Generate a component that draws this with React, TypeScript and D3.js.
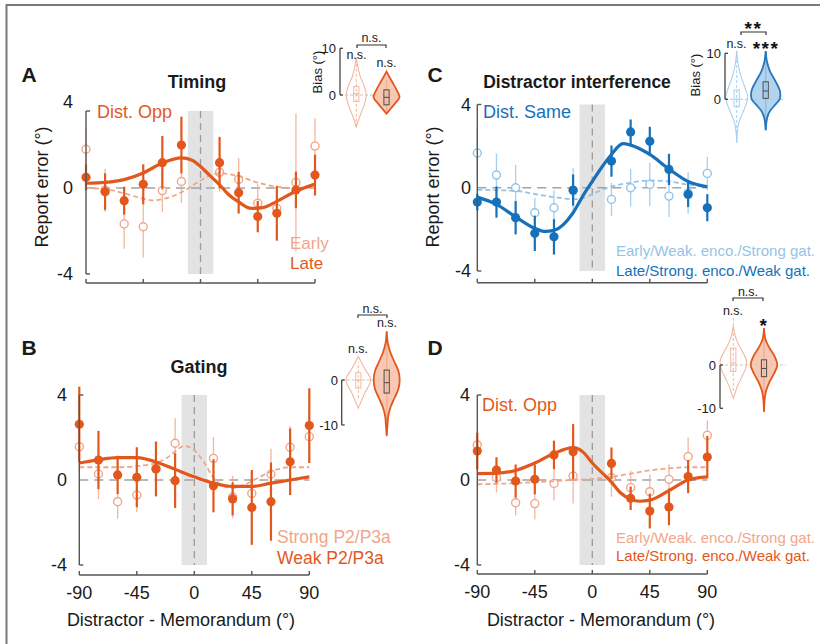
import React from 'react';
import * as d3 from 'd3';

// ---------------- DATA ----------------
const DEG = [-90, -75, -60, -45, -30, -15, 15, 30, 45, 60, 75, 90];
const X_TICKS = [-90, -45, 0, 45, 90];
const Y_TICKS = [-4, 0, 4];

// Panel A: Timing
const timingLate = [0.5, -0.17, -0.59, 0.17, 1.18, 2.0, 1.18, -0.22, -1.33, -1.18, -0.09, 0.6];
const timingLateErr = [0.6, 0.85, 0.65, 0.93, 1.24, 1.32, 1.2, 0.97, 0.73, 1.27, 0.85, 0.95];
const timingEarly = [1.8, -0.1, -1.67, -1.8, -0.12, 0.3, 0.73, 0.4, -0.71, -0.95, 0.26, 1.95];
const timingEarlyErr = [1.0, 1.0, 1.16, 1.43, 1.0, 1.0, 0.9, 1.0, 0.9, 1.0, 3.2, 1.3];
const timingLateFitDeg = [-90, -75, -60, -45, -30, -15, -7, 0, 7, 15, 22, 30, 40, 50, 60, 75, 90];
const timingLateFit = [0.22, 0.26, 0.39, 0.7, 1.16, 1.4, 1.3, 1.0, 0.6, 0.15, -0.3, -0.65, -0.95, -0.9, -0.62, -0.15, 0.18];
const timingEarlyFitDeg = [-90, -75, -60, -45, -37, -30, -15, 0, 10, 15, 30, 45, 60, 75, 90];
const timingEarlyFit = [0, -0.05, -0.25, -0.5, -0.58, -0.52, -0.2, 0.35, 0.65, 0.68, 0.55, 0.25, 0.06, 0, 0];

// Panel B: Gating
const gatingWeak = [2.62, 0.94, 0.24, 0.13, 0.52, -0.03, -0.27, -0.89, -1.29, -1.02, 0.86, 2.56];
const gatingWeakErr = [1.77, 1.37, 0.9, 1.41, 1.29, 1.29, 1.25, 0.78, 1.76, 1.84, 1.57, 1.76];
const gatingStrong = [1.57, 0.28, -1.02, -0.71, 0.55, 1.73, 1.02, -0.8, -0.63, 0.27, 1.54, 2.04];
const gatingStrongErr = [1.2, 1.18, 0.8, 0.8, 1.0, 1.18, 1.0, 1.0, 0.8, 1.2, 1.0, 1.2];
const gatingWeakFitDeg = [-90, -75, -60, -45, -30, -15, 0, 15, 30, 45, 60, 75, 90];
const gatingWeakFit = [0.8, 0.95, 1.05, 1.05, 0.85, 0.5, 0.15, -0.15, -0.3, -0.3, -0.15, 0.0, 0.15];
const gatingStrongFitDeg = [-90, -75, -60, -45, -30, -20, -15, -8, 0, 8, 15, 22, 30, 40, 50, 60, 75, 90];
const gatingStrongFit = [0.6, 0.6, 0.6, 0.65, 0.8, 1.1, 1.35, 1.6, 1.4, 0.8, 0.1, -0.25, -0.38, -0.2, 0.1, 0.4, 0.6, 0.6];

// Panel C: Distractor interference (Dist. Same)
const interfLate = [-0.69, -0.69, -1.44, -2.19, -2.36, -0.11, 1.28, 2.68, 2.23, 0.88, -0.32, -0.96];
const interfLateErr = [0.4, 0.75, 0.8, 0.85, 0.85, 0.75, 0.75, 0.6, 0.7, 0.75, 0.6, 0.65];
const interfEarly = [1.67, 0.61, 0.0, -1.2, -0.96, -0.15, -0.56, 0.0, 0.16, -0.4, -0.25, 0.69];
const interfEarlyErr = [1.2, 1.04, 1.1, 0.72, 0.84, 1.1, 0.8, 0.9, 1.04, 1.0, 1.0, 0.8];
const interfLateFitDeg = [-90, -75, -60, -45, -37, -30, -15, -7, 0, 7, 15, 24, 30, 45, 60, 75, 90];
const interfLateFit = [-0.45, -0.8, -1.4, -1.95, -2.1, -2.05, -1.2, -0.35, 0.3, 0.95, 1.6, 2.12, 2.05, 1.6, 0.9, 0.3, 0.05];
const interfEarlyFitDeg = [-90, -60, -45, -30, -15, -7, 0, 15, 30, 45, 60, 75, 90];
const interfEarlyFit = [-0.1, -0.15, -0.3, -0.45, -0.55, -0.5, -0.3, 0.05, 0.25, 0.35, 0.3, 0.15, 0.05];

// Panel D: Dist. Opp (encoding / gating)
const oppLate = [1.36, 0.47, -0.05, 0.03, 1.18, 1.33, 0.78, -0.86, -1.46, -1.27, 0.16, 1.08];
const oppLateErr = [0.86, 0.6, 0.78, 0.7, 0.67, 1.3, 0.75, 0.55, 0.82, 0.86, 0.78, 1.0];
const oppEarly = [1.65, 0.11, -1.07, -1.11, -0.16, 0.19, 0.11, -0.36, -0.55, 0.03, 1.1, 2.1];
const oppEarlyErr = [0.6, 0.7, 0.6, 0.75, 0.8, 1.3, 0.9, 0.8, 0.8, 0.7, 0.9, 0.7];
const oppLateFitDeg = [-90, -75, -60, -45, -30, -15, -7, 0, 15, 22, 30, 37, 45, 60, 75, 90];
const oppLateFit = [0.3, 0.32, 0.45, 0.8, 1.25, 1.52, 1.3, 0.8, -0.1, -0.6, -0.9, -1.0, -0.95, -0.5, 0.0, 0.15];
const oppEarlyFitDeg = [-90, -60, -45, -30, -15, 0, 15, 30, 45, 60, 75, 90];
const oppEarlyFit = [-0.2, -0.15, -0.1, -0.05, 0.0, 0.05, 0.15, 0.3, 0.45, 0.55, 0.6, 0.6];

// Violin insets: bias values (°) and relative density; box = [whiskLo, q1, median, q3, whiskHi]
const vA1Vals = [8, 6, 4, 2, 0, -2, -4, -6, -7];
const vA1Dens = [0, 0.12, 0.3, 0.6, 0.77, 0.62, 0.35, 0.09, 0];
const vA1Box = [-6.8, -1.4, 0.3, 1.8, 8.2];
const vA2Vals = [5, 3, 1, -0.4, -2, -3, -4];
const vA2Dens = [0, 0.4, 0.8, 1, 0.6, 0.3, 0];
const vA2Box = [-3.4, -2.1, -0.5, 1.1, 3.2];

const vB1Vals = [5.2, 2.6, 0, -3, -6.3];
const vB1Dens = [0, 0.48, 0.95, 0.48, 0];
const vB1Box = [-4, -1.8, 0, 1.6, 4];
const vB2Vals = [10.7, 8, 6, 4, 2, 0, -2, -4, -6, -8, -10, -12.2];
const vB2Dens = [0, 0.1, 0.3, 0.6, 0.9, 1, 0.9, 0.6, 0.3, 0.12, 0.06, 0];
const vB2Box = [-12.5, -2.9, -0.6, 2.2, 10.8];

const vC1Vals = [10.5, 8, 6, 4, 2, 0.5, -1, -3, -5, -7, -9.5];
const vC1Dens = [0, 0.08, 0.2, 0.4, 0.62, 0.75, 0.65, 0.4, 0.15, 0.05, 0];
const vC1Box = [-9.5, -1.6, 0, 2.0, 10.5];
const vC2Vals = [10.5, 8, 6, 4, 2, 1, 0, -1, -2.5, -4, -6.7];
const vC2Dens = [0, 0.1, 0.3, 0.65, 0.95, 1, 0.95, 0.7, 0.3, 0.1, 0];
const vC2Box = [-6.7, 0.2, 1.8, 3.8, 10.5];

const vD1Vals = [9, 7, 5, 3, 0.8, -1, -3, -5, -7, -7.7];
const vD1Dens = [0, 0.12, 0.35, 0.7, 1, 0.9, 0.6, 0.3, 0.08, 0];
const vD1Box = [-6, -1.5, 0.5, 3.9, 11];
const vD2Vals = [8.5, 6, 4, 2, 0, -2, -4, -6, -8, -10.8];
const vD2Dens = [0, 0.1, 0.4, 0.8, 1, 0.75, 0.4, 0.15, 0.05, 0];
const vD2Box = [-10.8, -2.7, -0.8, 1.2, 8.5];

// ---------------- STYLE ----------------
const FONT = "'Liberation Sans', Arial, Helvetica, sans-serif";
const COL = {
  oDark: '#E2581C',
  oLight: '#F1A68A',
  oFill: '#F6BFA7',
  bDark: '#1671BA',
  bLight: '#93C4E8',
  bFill: '#A6CCEA',
  axis: '#555555',
  zero: '#a3a3a3',
  band: '#e3e3e3',
  text: '#1a1a1a',
};

type Series = { vals: number[]; err: number[]; fitDeg: number[]; fit: number[] };
type PanelCfg = {
  x0: number; x1: number; yB: number; yT: number; axisTop: number; xAxisY: number;
  yLabelEnd: number; showX: boolean; titleX: number; dark: string; light: string;
  late: Series; early: Series;
};

function Panel({ c }: { c: PanelCfg }) {
  const x = d3.scaleLinear().domain([-90, 90]).range([c.x0, c.x1]);
  const y = d3.scaleLinear().domain([-4, 4]).range([c.yB, c.yT]);
  const mk = (degs: number[], vals: number[]) =>
    d3.line<number>().x((_, i) => x(degs[i])).y((d) => y(d)).curve(d3.curveMonotoneX)(vals) || '';
  const top = y(c.axisTop);
  return (
    <g>
      <rect x={x(-10)} y={top} width={x(10) - x(-10)} height={y(-4) - top} fill={COL.band} />
      <line x1={x(0)} x2={x(0)} y1={top} y2={y(-4)} stroke="#9a9a9a" strokeWidth={1.3} strokeDasharray="7,5" />
      <line x1={x(-90)} x2={x(90)} y1={y(0)} y2={y(0)} stroke={COL.zero} strokeWidth={1.4} strokeDasharray="9,6" />
      {DEG.map((d, i) => (
        <line key={'le' + i} x1={x(d)} x2={x(d)} y1={y(c.early.vals[i] - c.early.err[i])} y2={y(c.early.vals[i] + c.early.err[i])}
          stroke={c.light} strokeWidth={1.3} opacity={0.8} />
      ))}
      {DEG.map((d, i) => (
        <circle key={'ce' + i} cx={x(d)} cy={y(c.early.vals[i])} r={4} fill="white" stroke={c.light} strokeWidth={1.4} />
      ))}
      <path d={mk(c.early.fitDeg, c.early.fit)} fill="none" stroke={c.light} strokeWidth={1.8} strokeDasharray="5,3" />
      <path d={mk(c.late.fitDeg, c.late.fit)} fill="none" stroke={c.dark} strokeWidth={3.2} />
      {DEG.map((d, i) => (
        <line key={'ll' + i} x1={x(d)} x2={x(d)} y1={y(c.late.vals[i] - c.late.err[i])} y2={y(c.late.vals[i] + c.late.err[i])}
          stroke={c.dark} strokeWidth={2.2} />
      ))}
      {DEG.map((d, i) => (
        <circle key={'cl' + i} cx={x(d)} cy={y(c.late.vals[i])} r={4.6} fill={c.dark} />
      ))}
      <line x1={c.x0} x2={c.x0} y1={top} y2={y(-4)} stroke={COL.axis} strokeWidth={1.4} />
      {[top, y(-4)].map((yy, i) => (
        <line key={'yt' + i} x1={c.x0} x2={c.x0 + 4} y1={yy} y2={yy} stroke={COL.axis} strokeWidth={1.4} />
      ))}
      {Y_TICKS.map((t) => (
        <text key={'yl' + t} x={c.yLabelEnd} y={y(t)} textAnchor="end" dominantBaseline="central"
          fontSize={18} fontFamily={FONT} fill={COL.text}>{t}</text>
      ))}
      <line x1={x(-90)} x2={x(90)} y1={c.xAxisY} y2={c.xAxisY} stroke={COL.axis} strokeWidth={1.4} />
      {X_TICKS.map((t) => (
        <line key={'xt' + t} x1={x(t)} x2={x(t)} y1={c.xAxisY} y2={c.xAxisY - 4} stroke={COL.axis} strokeWidth={1.4} />
      ))}
      {c.showX && X_TICKS.map((t) => (
        <text key={'xl' + t} x={x(t)} y={c.xAxisY + 18} textAnchor="middle" dominantBaseline="central"
          fontSize={18} fontFamily={FONT} fill={COL.text}>{t}</text>
      ))}
      {c.showX && (
        <text x={c.titleX} y={620} textAnchor="middle" dominantBaseline="central"
          fontSize={18} fontFamily={FONT} fill={COL.text}>Distractor - Memorandum (°)</text>
      )}
    </g>
  );
}

type ViolinCfg = { cx: number; vals: number[]; dens: number[]; box: number[]; filled: boolean; stroke: string; fill: string; whisk: string };
type InsetCfg = {
  ax: number; domain: [number, number]; range: [number, number]; ticks: number[]; labelEnd: number;
  bias?: [number, number]; half: number; zeroEnd: number; violins: ViolinCfg[];
};

function Inset({ c }: { c: InsetCfg }) {
  const y = d3.scaleLinear().domain(c.domain).range(c.range);
  return (
    <g>
      <line x1={c.ax} x2={c.zeroEnd} y1={y(0)} y2={y(0)} stroke="#c4c4c4" strokeWidth={1} strokeDasharray="3,2" />
      {c.violins.map((v, k) => {
        const area = d3.area<number>()
          .y((_, i) => y(v.vals[i]))
          .x0((d) => v.cx - d * c.half)
          .x1((d) => v.cx + d * c.half)
          .curve(d3.curveMonotoneY);
        const [wLo, q1, med, q3, wHi] = v.box;
        return (
          <g key={k}>
            <line x1={v.cx} x2={v.cx} y1={y(wLo)} y2={y(wHi)} stroke={v.whisk} strokeWidth={v.filled ? 1.6 : 1}
              strokeDasharray={v.filled ? undefined : '3,2'} />
            <path d={area(v.dens) || ''} fill={v.filled ? v.fill : 'none'} fillOpacity={0.85}
              stroke={v.stroke} strokeWidth={v.filled ? 1.8 : 1.1} />
            <rect x={v.cx - 2.6} y={y(q3)} width={5.2} height={y(q1) - y(q3)} fill="none"
              stroke={v.filled ? '#4a4a4a' : v.stroke} strokeWidth={1} />
            <line x1={v.cx - 2.6} x2={v.cx + 2.6} y1={y(med)} y2={y(med)} stroke={v.filled ? '#4a4a4a' : v.stroke} strokeWidth={1} />
          </g>
        );
      })}
      <line x1={c.ax} x2={c.ax} y1={y(c.ticks[0])} y2={y(c.ticks[1])} stroke="#444" strokeWidth={1.3} />
      {c.ticks.map((t) => (
        <g key={t}>
          <line x1={c.ax} x2={c.ax + 3} y1={y(t)} y2={y(t)} stroke="#444" strokeWidth={1.3} />
          <text x={c.labelEnd} y={y(t)} textAnchor="end" dominantBaseline="central" fontSize={13}
            fontFamily={FONT} fill={COL.text}>{t}</text>
        </g>
      ))}
      {c.bias && (
        <text transform={`translate(${c.bias[0]},${c.bias[1]}) rotate(-90)`} textAnchor="middle" dominantBaseline="central"
          fontSize={13} fontFamily={FONT} fill={COL.text}>Bias (°)</text>
      )}
    </g>
  );
}

const T = (props: any) => (
  <text fontFamily={FONT} dominantBaseline="central" fill={COL.text} {...props} />
);

function Bracket({ x1, x2, y }: { x1: number; x2: number; y: number }) {
  return <path d={`M${x1},${y + 3}V${y}H${x2}V${y + 3}`} fill="none" stroke="#333" strokeWidth={1.2} />;
}

const Stars = ({ x, y, s }: { x: number; y: number; s: string }) => (
  <text x={x} y={y + 9.5} textAnchor="middle" fontFamily={FONT} fontWeight="bold" fontSize={19}
    letterSpacing={1.5} fill="#111">{s}</text>
);

export default function App() {
  const panelA: PanelCfg = {
    x0: 86, x1: 315, yB: 274, yT: 102, axisTop: 3.58, xAxisY: 283, yLabelEnd: 73, showX: false, titleX: 0,
    dark: COL.oDark, light: COL.oLight,
    late: { vals: timingLate, err: timingLateErr, fitDeg: timingLateFitDeg, fit: timingLateFit },
    early: { vals: timingEarly, err: timingEarlyErr, fitDeg: timingEarlyFitDeg, fit: timingEarlyFit },
  };
  const panelB: PanelCfg = {
    x0: 79.3, x1: 309.3, yB: 565, yT: 395, axisTop: 4, xAxisY: 575, yLabelEnd: 67, showX: true, titleX: 181,
    dark: COL.oDark, light: COL.oLight,
    late: { vals: gatingWeak, err: gatingWeakErr, fitDeg: gatingWeakFitDeg, fit: gatingWeakFit },
    early: { vals: gatingStrong, err: gatingStrongErr, fitDeg: gatingStrongFitDeg, fit: gatingStrongFit },
  };
  const panelC: PanelCfg = {
    x0: 477.3, x1: 707.3, yB: 271, yT: 104.5, axisTop: 4, xAxisY: 282.7, yLabelEnd: 471, showX: false, titleX: 0,
    dark: COL.bDark, light: COL.bLight,
    late: { vals: interfLate, err: interfLateErr, fitDeg: interfLateFitDeg, fit: interfLateFit },
    early: { vals: interfEarly, err: interfEarlyErr, fitDeg: interfEarlyFitDeg, fit: interfEarlyFit },
  };
  const panelD: PanelCfg = {
    x0: 477.3, x1: 707.3, yB: 565, yT: 395, axisTop: 4, xAxisY: 574, yLabelEnd: 470, showX: true, titleX: 601,
    dark: COL.oDark, light: COL.oLight,
    late: { vals: oppLate, err: oppLateErr, fitDeg: oppLateFitDeg, fit: oppLateFit },
    early: { vals: oppEarly, err: oppEarlyErr, fitDeg: oppEarlyFitDeg, fit: oppEarlyFit },
  };

  const earlyO = (cx: number, vals: number[], dens: number[], box: number[]): ViolinCfg =>
    ({ cx, vals, dens, box, filled: false, stroke: '#F3B79F', fill: 'none', whisk: '#F3B79F' });
  const lateO = (cx: number, vals: number[], dens: number[], box: number[]): ViolinCfg =>
    ({ cx, vals, dens, box, filled: true, stroke: COL.oDark, fill: COL.oFill, whisk: COL.oDark });

  const insetA: InsetCfg = {
    ax: 340, domain: [0, 10], range: [95, 48.3], ticks: [10, 0], labelEnd: 336, bias: [317, 72], half: 13, zeroEnd: 400,
    violins: [earlyO(356.3, vA1Vals, vA1Dens, vA1Box), lateO(386.5, vA2Vals, vA2Dens, vA2Box)],
  };
  const insetB: InsetCfg = {
    ax: 341.7, domain: [-10, 0], range: [425, 380], ticks: [0, -10], labelEnd: 338, half: 13, zeroEnd: 402,
    violins: [earlyO(358.3, vB1Vals, vB1Dens, vB1Box), lateO(386.7, vB2Vals, vB2Dens, vB2Box)],
  };
  const insetC: InsetCfg = {
    ax: 725, domain: [0, 10], range: [99.3, 53.3], ticks: [10, 0], labelEnd: 721, bias: [695, 75], half: 14.7, zeroEnd: 785,
    violins: [
      { cx: 736.7, vals: vC1Vals, dens: vC1Dens, box: vC1Box, filled: false, stroke: '#A9D0EE', fill: 'none', whisk: '#A9D0EE' },
      { cx: 765.7, vals: vC2Vals, dens: vC2Dens, box: vC2Box, filled: true, stroke: '#2A76BC', fill: COL.bFill, whisk: '#2A76BC' },
    ],
  };
  const insetD: InsetCfg = {
    ax: 720, domain: [-10, 0], range: [408.3, 365], ticks: [0, -10], labelEnd: 716, half: 13.3, zeroEnd: 786,
    violins: [earlyO(733.3, vD1Vals, vD1Dens, vD1Box), lateO(764, vD2Vals, vD2Dens, vD2Box)],
  };

  return (
    <svg width={820} height={644} style={{ position: 'absolute', left: 0, top: 0, background: 'white' }}>
      <rect x={0} y={0} width={820} height={644} fill="white" />
      <path d="M6.5,644V5H820" fill="none" stroke="#7a7a7a" strokeWidth={2} />

      <Panel c={panelA} />
      <Panel c={panelB} />
      <Panel c={panelC} />
      <Panel c={panelD} />

      <T x={29} y={74} textAnchor="middle" fontSize={21} fontWeight="bold">A</T>
      <T x={29} y={347} textAnchor="middle" fontSize={21} fontWeight="bold">B</T>
      <T x={435} y={74} textAnchor="middle" fontSize={21} fontWeight="bold">C</T>
      <T x={435} y={347} textAnchor="middle" fontSize={21} fontWeight="bold">D</T>
      <T x={197} y={82} textAnchor="middle" fontSize={18} fontWeight="bold">Timing</T>
      <T x={199} y={367} textAnchor="middle" fontSize={18} fontWeight="bold">Gating</T>
      <T x={577} y={82} textAnchor="middle" fontSize={17.5} fontWeight="bold">Distractor interference</T>

      <T transform="translate(42,187) rotate(-90)" textAnchor="middle" fontSize={18}>Report error (°)</T>
      <T transform="translate(433,187) rotate(-90)" textAnchor="middle" fontSize={18}>Report error (°)</T>

      <T x={97} y={112} fontSize={18} fill={COL.oDark}>Dist. Opp</T>
      <T x={483} y={112} fontSize={18} fill={COL.bDark}>Dist. Same</T>
      <T x={482} y={405} fontSize={18} fill={COL.oDark}>Dist. Opp</T>

      <T x={290} y={243} fontSize={17} fill={COL.oLight}>Early</T>
      <T x={290} y={263} fontSize={17} fill={COL.oDark}>Late</T>
      <rect x={274} y={526} width={122} height={42} fill="white" opacity={0.85} />
      <T x={277} y={537} fontSize={17.5} fill={COL.oLight}>Strong P2/P3a</T>
      <T x={277} y={558} fontSize={17.5} fill={COL.oDark}>Weak P2/P3a</T>
      <T x={616} y={250} fontSize={15} fill={COL.bLight}>Early/Weak. enco./Strong gat.</T>
      <T x={616} y={270} fontSize={15} fill={COL.bDark}>Late/Strong. enco./Weak gat.</T>
      <T x={616} y={537} fontSize={15} fill={COL.oLight}>Early/Weak. enco./Strong gat.</T>
      <T x={616} y={555} fontSize={15} fill={COL.oDark}>Late/Strong. enco./Weak gat.</T>

      <Inset c={insetA} />
      <Inset c={insetB} />
      <Inset c={insetC} />
      <Inset c={insetD} />

      <Bracket x1={357} x2={386} y={45} />
      <T x={371.5} y={38} textAnchor="middle" fontSize={12.5}>n.s.</T>
      <T x={356.5} y={55} textAnchor="middle" fontSize={12.5}>n.s.</T>
      <T x={386.5} y={63} textAnchor="middle" fontSize={12.5}>n.s.</T>

      <Bracket x1={358} x2={387} y={315} />
      <T x={372.5} y={309} textAnchor="middle" fontSize={12.5}>n.s.</T>
      <T x={387} y={323} textAnchor="middle" fontSize={12.5}>n.s.</T>
      <T x={358} y={349} textAnchor="middle" fontSize={12.5}>n.s.</T>

      <Bracket x1={741} x2={766} y={32} />
      <Stars x={753.5} y={25} s="**" />
      <T x={736.5} y={44} textAnchor="middle" fontSize={12.5}>n.s.</T>
      <Stars x={766} y={45} s="***" />

      <Bracket x1={733} x2={763} y={298} />
      <T x={748} y={291.5} textAnchor="middle" fontSize={12.5}>n.s.</T>
      <T x={733} y={311} textAnchor="middle" fontSize={12.5}>n.s.</T>
      <Stars x={764} y={322} s="*" />
    </svg>
  );
}
